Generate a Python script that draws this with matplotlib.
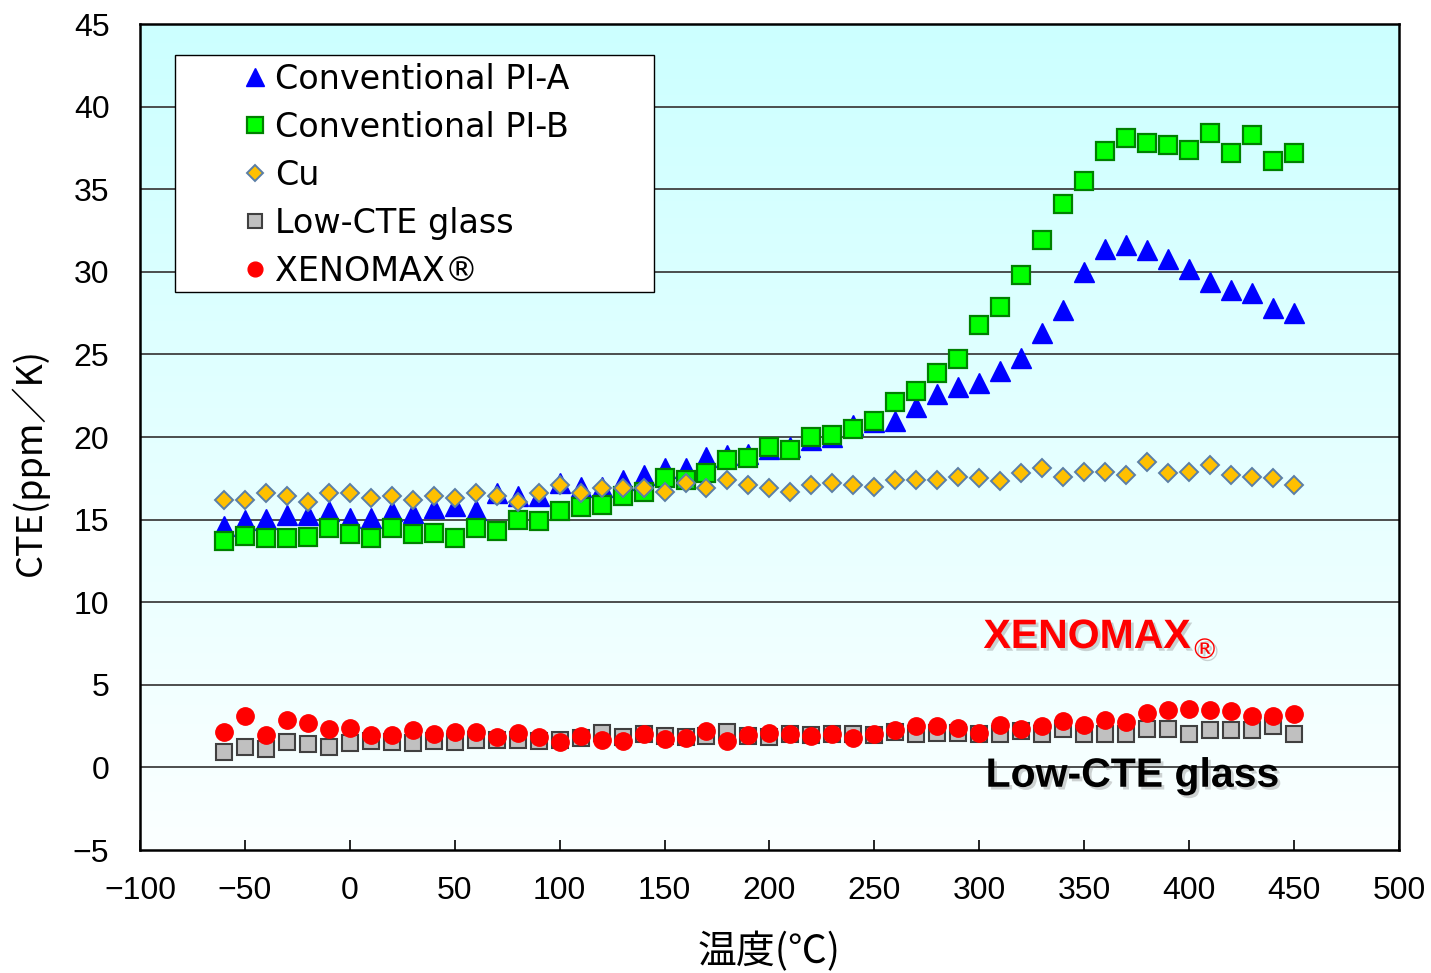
import numpy as np
import matplotlib
matplotlib.use("Agg")
import matplotlib.pyplot as plt
import matplotlib.patheffects as pe
from matplotlib.patches import Rectangle

# ------------------------------------------------------------
# data
# ------------------------------------------------------------
temps = [-60, -50, -40, -30, -20, -10, 0, 10, 20, 30,
         40, 50, 60, 70, 80, 90, 100, 110, 120, 130,
         140, 150, 160, 170, 180, 190, 200, 210, 220, 230,
         240, 250, 260, 270, 280, 290, 300, 310, 320, 330,
         340, 350, 360, 370, 380, 390, 400, 410, 420, 430,
         440, 450]

pi_a = [14.6, 15.0, 15.05, 15.3, 15.3, 15.5, 15.1, 15.1, 15.5, 15.4,
        15.7, 15.8, 15.6, 16.6, 16.4, 16.4, 17.2, 17.0, 17.0, 17.4,
        17.7, 18.1, 18.1, 18.8, 18.9, 19.0, 19.3, 19.4, 19.8, 20.0,
        20.7, 20.9, 21.0, 21.8, 22.6, 23.0, 23.3, 24.0, 24.8, 26.3,
        27.7, 30.0, 31.4, 31.6, 31.3, 30.8, 30.2, 29.4, 28.9, 28.7,
        27.8, 27.5]

pi_b = [13.7, 14.0, 13.9, 13.9, 13.95, 14.5, 14.1, 13.9, 14.5, 14.1,
        14.2, 13.9, 14.5, 14.3, 15.0, 14.9, 15.5, 15.75, 15.9, 16.4,
        16.7, 17.5, 17.4, 17.8, 18.6, 18.7, 19.4, 19.2, 20.0, 20.1,
        20.5, 21.0, 22.1, 22.8, 23.9, 24.7, 26.8, 27.9, 29.8, 31.9,
        34.1, 35.5, 37.3, 38.1, 37.8, 37.7, 37.4, 38.4, 37.2, 38.3,
        36.7, 37.2]

cu = [16.2, 16.2, 16.6, 16.4, 16.05, 16.6, 16.6, 16.3, 16.4, 16.2,
      16.4, 16.3, 16.6, 16.4, 16.05, 16.6, 17.1, 16.6, 16.9, 16.9,
      16.9, 16.7, 17.2, 16.9, 17.4, 17.1, 16.9, 16.7, 17.1, 17.2,
      17.1, 17.0, 17.4, 17.4, 17.4, 17.6, 17.5, 17.35, 17.8, 18.1,
      17.6, 17.9, 17.9, 17.7, 18.5, 17.8, 17.9, 18.3, 17.7, 17.6,
      17.5, 17.1]

glass = [0.94, 1.24, 1.14, 1.54, 1.44, 1.24, 1.48, 1.6, 1.54, 1.48,
         1.58, 1.54, 1.64, 1.64, 1.68, 1.6, 1.64, 1.8, 2.08, 1.84,
         2.0, 1.88, 1.84, 1.88, 2.14, 1.9, 1.84, 2.04, 1.94, 2.0,
         2.0, 1.94, 2.14, 2.0, 2.08, 2.08, 2.04, 2.04, 2.2, 2.0,
         2.34, 2.0, 2.04, 2.04, 2.34, 2.34, 2.0, 2.28, 2.28, 2.24,
         2.48, 2.04]

xenomax = [2.14, 3.1, 1.94, 2.9, 2.7, 2.34, 2.38, 1.94, 1.94, 2.24,
           2.0, 2.14, 2.14, 1.84, 2.08, 1.84, 1.54, 1.88, 1.68, 1.6,
           2.0, 1.74, 1.8, 2.18, 1.6, 1.94, 2.08, 2.04, 1.88, 2.0,
           1.8, 2.04, 2.24, 2.5, 2.48, 2.4, 2.08, 2.54, 2.34, 2.48,
           2.8, 2.54, 2.84, 2.74, 3.28, 3.48, 3.54, 3.48, 3.4, 3.14,
           3.14, 3.24]

x_ticks = [-100, -50, 0, 50, 100, 150, 200, 250, 300, 350, 400, 450, 500]
y_ticks = [-5, 0, 5, 10, 15, 20, 25, 30, 35, 40, 45]

# ------------------------------------------------------------
# figure
# ------------------------------------------------------------
fig = plt.figure(figsize=(14.31, 9.73), dpi=100)
ax = fig.add_axes([0.0978, 0.1264, 0.8798, 0.8489])

# gradient background (light cyan at top -> near white at bottom)
grad = np.linspace(0, 1, 256).reshape(-1, 1)
top = np.array([0.80, 1.0, 1.0])
bot = np.array([0.985, 1.0, 1.0])
img = top + (bot - top) * grad[..., None]
ax.imshow(img, extent=[0, 1, 0, 1], transform=ax.transAxes,
          aspect="auto", zorder=0)

ax.set_xlim(-100, 500)
ax.set_ylim(-5, 45)
for yv in y_ticks[1:-1]:
    ax.axhline(yv, color="#404040", linewidth=1.3, zorder=1)

ax.plot(temps, pi_a, linestyle="none", marker="^", markersize=14.5,
        color="#0000ff", markeredgecolor="#0000ff", label="Conventional PI-A", zorder=3)
ax.plot(temps, pi_b, linestyle="none", marker="s", markersize=13,
        markerfacecolor="#00ff00", markeredgecolor="#008000", markeredgewidth=1.6,
        label="Conventional PI-B", zorder=4)
ax.plot(temps, cu, linestyle="none", marker="D", markersize=9.5,
        markerfacecolor="#ffc000", markeredgecolor="#5b7fa6", markeredgewidth=1.4,
        label="Cu", zorder=5)
ax.plot(temps, glass, linestyle="none", marker="s", markersize=11.5,
        markerfacecolor="#c0c0c0", markeredgecolor="#404040", markeredgewidth=1.5,
        label="Low-CTE glass", zorder=6)
ax.plot(temps, xenomax, linestyle="none", marker="o", markersize=12.5,
        color="#ff0000", markeredgecolor="#ff0000", label="XENOMAX®", zorder=7)

# axes styling
ax.set_xticks(x_ticks)
ax.set_yticks(y_ticks)
ax.set_xticklabels([f"{v}".replace("-", "\u2212") for v in x_ticks],
                   fontfamily="Liberation Sans", fontsize=23)
ax.set_yticklabels([f"{v}".replace("-", "\u2212") for v in y_ticks],
                   fontfamily="Liberation Sans", fontsize=23)
ax.tick_params(axis="x", direction="in", length=7, width=1.2, pad=19)
ax.tick_params(axis="y", length=0, pad=22)
for sp in ax.spines.values():
    sp.set_linewidth(1.8)
    sp.set_color("black")
    sp.set_zorder(8)

ax.set_xlabel("温度(℃)", fontfamily="Noto Sans CJK JP", fontsize=28)
ax.xaxis.set_label_coords(0.5, -0.099)
ax.set_ylabel("CTE(ppm／K)", fontfamily="Noto Sans CJK JP", fontsize=26)
ax.yaxis.set_label_coords(-0.072, 0.47)

# legend: white box drawn separately so markers can sit inside it
ax.add_patch(Rectangle((0.0278, 0.6755), 0.3805, 0.287, transform=ax.transAxes,
                       facecolor="white", edgecolor="black", linewidth=1.0, zorder=9))
leg = ax.legend(loc="center left", bbox_to_anchor=(0.0785, 0.8172),
                frameon=False, borderpad=0, borderaxespad=0,
                handlelength=1.0, handletextpad=0.1, labelspacing=0.45,
                markerscale=0.85, numpoints=1,
                prop={"family": "DejaVu Sans", "size": 24})
leg.set_zorder(10)

# annotations
shadow = [pe.withSimplePatchShadow(offset=(2, -2), shadow_rgbFace="gray", alpha=0.35)]
t1 = ax.text(302, 7.23, "XENOMAX", color="#ff0000", fontsize=29.5,
             fontweight="bold", fontfamily="Liberation Sans", zorder=11,
             path_effects=shadow)
ax.annotate("®", xy=(1.0, 0.0), xycoords=t1, xytext=(0, 4), textcoords="offset points",
            ha="left", va="center", color="#ff0000", fontsize=20,
            fontfamily="DejaVu Sans", zorder=11, path_effects=shadow)
ax.text(303, -1.17, "Low-CTE glass", color="black", fontsize=29.5,
        fontweight="bold", fontfamily="Liberation Sans", zorder=11,
        path_effects=shadow)

fig.savefig("out.png", dpi=100)
plt.close(fig)
